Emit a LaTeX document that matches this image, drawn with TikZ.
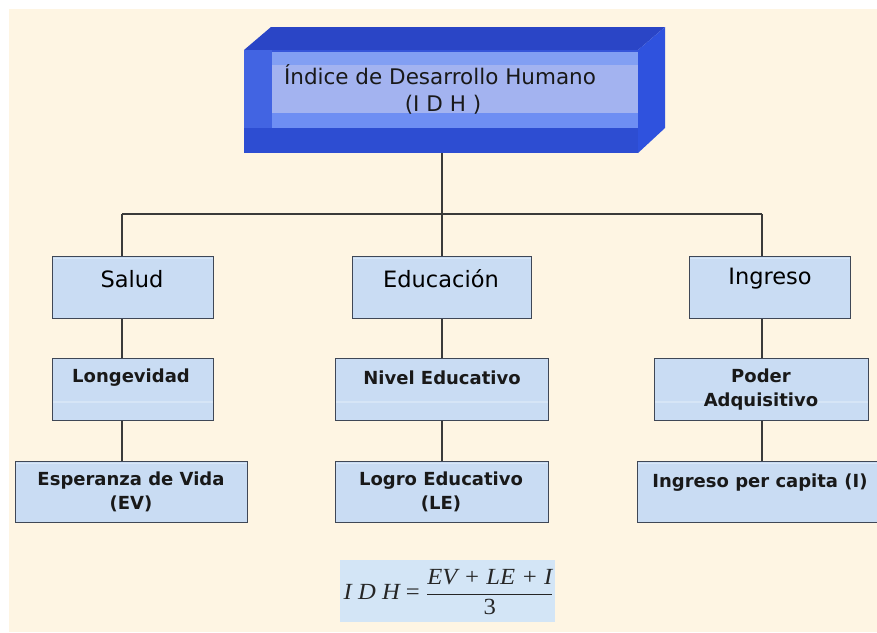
\documentclass[tikz,border=0pt]{standalone}
\usepackage{fontspec}
\usepackage{graphicx}
\setmainfont{DejaVu Sans}
\newfontfamily\frm{Liberation Serif}
\definecolor{cream}{HTML}{FEF5E3}
\definecolor{boxfill}{HTML}{C9DCF3}
\definecolor{boxline}{HTML}{3F4756}
\definecolor{wire}{HTML}{3A3A3A}
\definecolor{topface}{HTML}{2A45C6}
\definecolor{rightface}{HTML}{2F52DE}
\definecolor{frontface}{HTML}{3656DA}
\definecolor{bevel}{HTML}{4264E2}
\definecolor{bottomface}{HTML}{2D4DD2}
\definecolor{panelA}{HTML}{829FF3}
\definecolor{panelB}{HTML}{A3B3F0}
\definecolor{panelC}{HTML}{6E8EF3}
\definecolor{formfill}{HTML}{D3E5F6}
\begin{document}
\begin{tikzpicture}[x=1pt,y=-1pt,
  cbox/.style={draw=boxline, line width=1.3pt, fill=boxfill, minimum height=62pt, inner sep=0pt, anchor=north west},
  lbl1/.style={font=\fontsize{22.5}{26}\selectfont, inner sep=0pt, text=black},
  lbl2/.style={font=\bfseries\fontsize{18}{24}\selectfont, inner sep=0pt, align=center, text=black!90},
  wireline/.style={draw=wire, line width=1.2pt}]
\useasboundingbox (0,0) rectangle (877,632);
\fill[cream] (9,9) rectangle (877,632);

% 3D title box
\fill[topface] (244,50) -- (271,27) -- (665,27) -- (638,50) -- cycle;
\fill[rightface] (638,50) -- (665,27) -- (665,128) -- (638,153) -- cycle;
\fill[frontface] (244,50) rectangle (638,153);
\fill[bevel] (244,50) rectangle (272,153);
\fill[bottomface] (244,128) rectangle (638,153);
\fill[panelA] (272,52) rectangle (638,65);
\fill[panelB] (272,65) rectangle (638,113);
\fill[panelC] (272,113) rectangle (638,128);
\node[inner sep=0pt, minimum width=394pt, minimum height=103pt, anchor=north west] (idh) at (244,50) {};
\node[font=\fontsize{21.5}{24}\selectfont, inner sep=0pt, text=black!90] (t1) at (440,75) {Índice de Desarrollo Humano};
\node[font=\fontsize{21.5}{24}\selectfont, inner sep=0pt, text=black!90] (t2) at (443,105) {(I D H )};

% boxes
\node[cbox, minimum width=161pt] (salud) at (52,256) {};
\node[cbox, minimum width=179pt] (educ) at (352,256) {};
\node[cbox, minimum width=161pt] (ingr) at (689,256) {};
\node[cbox, minimum width=161pt] (longe) at (52,358) {};
\node[cbox, minimum width=213pt] (nivel) at (335,358) {};
\node[cbox, minimum width=214pt] (poder) at (654,358) {};
\node[cbox, minimum width=232pt, minimum height=61pt] (esper) at (15,461) {};
\node[cbox, minimum width=213pt, minimum height=61pt] (logro) at (335,461) {};
\node[cbox, minimum width=240pt, minimum height=61pt] (ipc) at (637,461) {};

% gloss lines
\foreach \b in {longe,nivel,poder}{
  \draw[white!25!boxfill, line width=1.2pt] ([xshift=1pt,yshift=-44pt]\b.north west) -- ([xshift=-1pt,yshift=-44pt]\b.north east);
}
\foreach \b in {salud,educ,ingr,esper,logro,ipc}{
  \draw[white!30!boxfill, line width=1.5pt] ([xshift=1pt,yshift=-2.5pt]\b.north west) -- ([xshift=-1pt,yshift=-2.5pt]\b.north east);
}

% labels
\node[lbl1] (ls) at (132,279) {Salud};
\node[lbl1] (le) at (441,279) {Educación};
\node[lbl1] (li) at (770,279) {Ingreso};
\node[lbl2] (ll) at (131,378) {Longevidad};
\node[lbl2] (ln) at (442,378) {Nivel Educativo};
\node[lbl2] (lp) at (761,390) {Poder\\Adquisitivo};
\node[lbl2] (lv) at (131,492) {Esperanza de Vida\\(EV)};
\node[lbl2] (lg) at (441,492) {Logro Educativo\\(LE)};
\node[lbl2] (lc) at (760,483) {Ingreso per capita (I)};

% connectors
\coordinate (hub) at (442,214);
\coordinate (hs) at (122,214);
\coordinate (he) at (442,214);
\coordinate (hi) at (762,214);
\draw[wireline] (hub |- idh.south) -- (hub);
\draw[wireline] (hs) -- (hi);
\draw[wireline] (hs) -- (hs |- salud.north);
\draw[wireline] (he) -- (he |- educ.north);
\draw[wireline] (hi) -- (hi |- ingr.north);
\draw[wireline] (hs |- salud.south) -- (hs |- longe.north);
\draw[wireline] (he |- educ.south) -- (he |- nivel.north);
\draw[wireline] (hi |- ingr.south) -- (hi |- poder.north);
\draw[wireline] (hs |- longe.south) -- (hs |- esper.north);
\draw[wireline] (he |- nivel.south) -- (he |- logro.north);
\draw[wireline] (hi |- poder.south) -- (hi |- ipc.north);

% formula
\node[fill=formfill, minimum width=215pt, minimum height=62pt, inner sep=0pt, anchor=north west] (fbox) at (340,560) {};
\node[inner sep=0pt, text=black!85] (form) at ([xshift=1pt,yshift=-1pt]fbox.center) {\scalebox{1.12}[1.05]{\frm\fontsize{22}{26}\selectfont
  $\mbox{\itshape I D H}\mbox{ = }\displaystyle\frac{\mbox{\itshape EV + LE + I}}{\mbox{3}}$}};
\end{tikzpicture}
\end{document}
